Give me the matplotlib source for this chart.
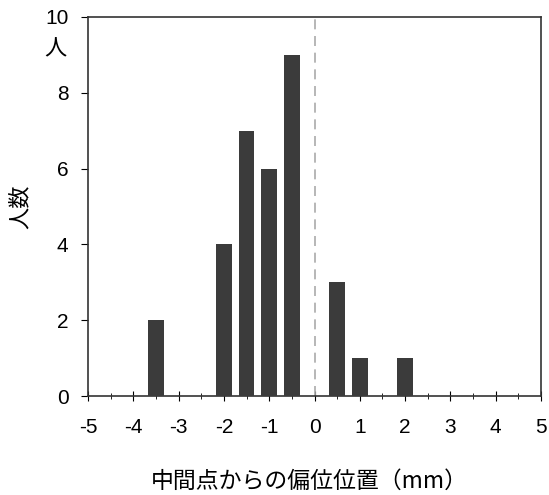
import matplotlib.pyplot as plt
import numpy as np
from matplotlib.ticker import MultipleLocator

plt.rcParams['font.family'] = ['Liberation Sans', 'Noto Sans CJK JP']

# 偏位位置 (mm) と人数
positions = [-3.5, -2.0, -1.5, -1.0, -0.5, 0.5, 1.0, 2.0]
counts = [2, 4, 7, 6, 9, 3, 1, 1]

fig = plt.figure(figsize=(5.49, 4.95), dpi=100)
ax = fig.add_axes([88 / 549, 1 - 396 / 495, 453 / 549, 379 / 495])

ax.bar(positions, counts, width=0.35, color="#3b3b3b", zorder=3)
ax.axvline(0, color="#aaaaaa", linestyle=(0, (6, 4)), linewidth=1.2, zorder=2)

ax.set_xlim(-5, 5)
ax.set_ylim(0, 10)
ax.xaxis.set_major_locator(MultipleLocator(1))
ax.xaxis.set_minor_locator(MultipleLocator(0.5))
ax.yaxis.set_major_locator(MultipleLocator(2))
ax.tick_params(axis="x", which="major", direction="inout", length=7, labelsize=15, pad=12)
ax.tick_params(axis="x", which="minor", direction="inout", length=5)
ax.tick_params(axis="y", direction="out", length=5, labelsize=15, pad=9)
for s in ax.spines.values():
    s.set_color("#333333")
    s.set_linewidth(1.2)

ax.set_xticklabels([f"{int(v)}" for v in ax.get_xticks()])

cjk = ['Noto Sans CJK JP', 'DejaVu Sans']
fig.text(55 / 549, 1 - 49 / 495, "人", fontsize=16, ha="center", va="center", family=cjk)
fig.text(20 / 549, 1 - 207 / 495, "人数", fontsize=16, ha="center", va="center", rotation=90, family=cjk)
fig.text(309 / 549, 1 - 481 / 495, "中間点からの偏位位置（mm）", fontsize=16.5, ha="center", va="center", family=cjk)

plt.savefig("out.png", dpi=100)
plt.close()
